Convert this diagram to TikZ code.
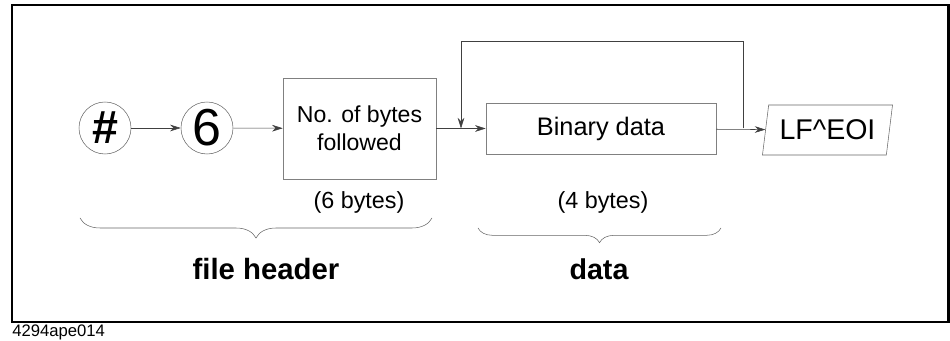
\documentclass[tikz,border=0pt]{standalone}
\usepackage{fontspec}
\setmainfont{Liberation Sans}
\usetikzlibrary{positioning, arrows.meta, shapes.geometric, decorations.pathreplacing}
\tikzset{
    ring/.style={circle, draw=gray!80!black, thin, minimum size=39pt, inner sep=0pt},
    field/.style={rectangle, draw=gray, thin, align=center, inner sep=0pt},
    flow/.style={-{Stealth[length=8pt, width=5pt]}, thin, black!75},
    brc/.style={decorate, decoration={brace, mirror}, thin, gray!80!black},
}

\begin{document}
\begin{tikzpicture}[x=0.75pt, y=-0.75pt]
    \useasboundingbox (0,0) rectangle (950,341);

    % --- OUTER FRAME ---
    \draw[line width=2.2pt] (12,5) rectangle (948.5,322);
    \node[anchor=west, font=\fontsize{12.5}{14}\selectfont, inner sep=0pt] (fig) at (12,332) {4294ape014};

    % --- FILE HEADER ---
    \node[ring, font=\fontsize{35}{36}\selectfont\bfseries] (hash) at (105,128) {\#};
    \node[ring, font=\fontsize{39}{40}\selectfont] (six) at (207,128) {6};
    \node[field, minimum width=114.75pt, minimum height=75.75pt,
          font=\fontsize{17.3}{21}\selectfont] (count) at (359.5,128.5) {No. of bytes\\followed};

    % --- DATA ---
    \node[field, minimum width=172.5pt, minimum height=38.25pt,
          font=\fontsize{19}{22}\selectfont] (bin) at (601,128.5) {Binary data};

    % Terminator
    \node[trapezium, draw=gray!80!black, thin, trapezium left angle=76, trapezium right angle=104,
          trapezium stretches=true, minimum width=98.25pt, minimum height=37.5pt, inner sep=0pt,
          font=\fontsize{21.4}{24}\selectfont] (term) at (827.5,130) {LF\textasciicircum EOI};

    % Connectors
    \draw[flow] (hash) -- (six);
    \draw[flow] (six) -- (count);
    \coordinate (merge) at (461,128.5);
    \coordinate (tap) at (743,128.5);
    \draw[flow] (count) -- (bin);
    \draw[flow] (bin) -- (term);
    \draw[flow] (tap) -- (tap |- 0,41) -| (merge);

    % Sizes
    \node[font=\fontsize{17.5}{20}\selectfont] (szhead) at (359,202) {(6 bytes)};
    \node[font=\fontsize{17.5}{20}\selectfont] (szdata) at (603,202) {(4 bytes)};

    % Braces and captions
    \draw[brc, decoration={amplitude=15pt}] (80,218) -- (432,218);
    \draw[brc, decoration={amplitude=11pt}] (478,228) -- (721,228);
    \node[font=\fontsize{22}{26}\selectfont\bfseries] (head) at (266,269) {file header};
    \node[font=\fontsize{21.5}{26}\selectfont\bfseries] (data) at (599,269) {data};
\end{tikzpicture}
\end{document}
